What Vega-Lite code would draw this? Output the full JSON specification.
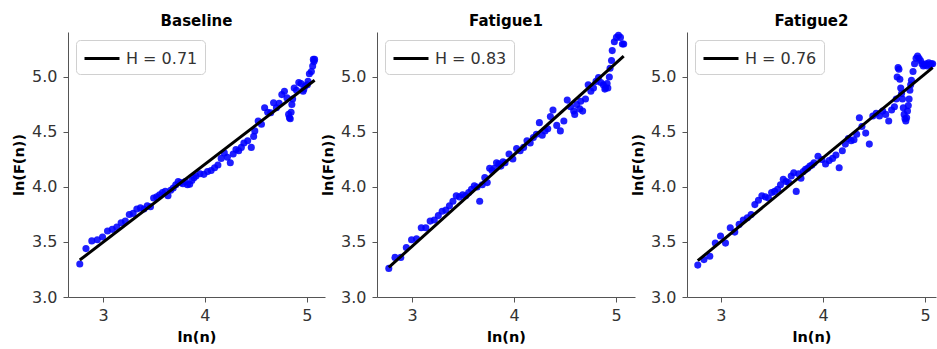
{
  "$schema": "https://vega.github.io/schema/vega-lite/v6.json",
  "padding": {"left": 11, "top": 13, "right": 0, "bottom": 0},
  "background": "white",
  "datasets": {
    "fit": [
      {"p": "Baseline", "label": "H = 0.71", "x": 2.7726, "y": 3.336},
      {"p": "Baseline", "label": "H = 0.71", "x": 5.0752, "y": 4.97},
      {"p": "Fatigue1", "label": "H = 0.83", "x": 2.7726, "y": 3.27},
      {"p": "Fatigue1", "label": "H = 0.83", "x": 5.0752, "y": 5.19},
      {"p": "Fatigue2", "label": "H = 0.76", "x": 2.7726, "y": 3.33},
      {"p": "Fatigue2", "label": "H = 0.76", "x": 5.0752, "y": 5.085}
    ],
    "pts": [
      {"p":"Baseline","x":2.7726,"y":3.30},{"p":"Baseline","x":2.8332,"y":3.44},{"p":"Baseline","x":2.8904,"y":3.51},{"p":"Baseline","x":2.9444,"y":3.52},{"p":"Baseline","x":2.9957,"y":3.545},{"p":"Baseline","x":3.0445,"y":3.60},{"p":"Baseline","x":3.0910,"y":3.615},{"p":"Baseline","x":3.1355,"y":3.635},{"p":"Baseline","x":3.1781,"y":3.675},{"p":"Baseline","x":3.2189,"y":3.69},{"p":"Baseline","x":3.2581,"y":3.75},{"p":"Baseline","x":3.2958,"y":3.76},{"p":"Baseline","x":3.3322,"y":3.80},{"p":"Baseline","x":3.3673,"y":3.81},{"p":"Baseline","x":3.4012,"y":3.80},{"p":"Baseline","x":3.4340,"y":3.83},{"p":"Baseline","x":3.4657,"y":3.82},{"p":"Baseline","x":3.4965,"y":3.90},{"p":"Baseline","x":3.5264,"y":3.91},{"p":"Baseline","x":3.5553,"y":3.93},{"p":"Baseline","x":3.5835,"y":3.95},{"p":"Baseline","x":3.6109,"y":3.96},{"p":"Baseline","x":3.6376,"y":3.92},{"p":"Baseline","x":3.6636,"y":3.97},{"p":"Baseline","x":3.6889,"y":3.99},{"p":"Baseline","x":3.7136,"y":4.02},{"p":"Baseline","x":3.7377,"y":4.05},{"p":"Baseline","x":3.7612,"y":4.04},{"p":"Baseline","x":3.7842,"y":4.03},{"p":"Baseline","x":3.8067,"y":4.05},{"p":"Baseline","x":3.8286,"y":4.02},{"p":"Baseline","x":3.8501,"y":4.025},{"p":"Baseline","x":3.8712,"y":4.06},{"p":"Baseline","x":3.8918,"y":4.085},{"p":"Baseline","x":3.9120,"y":4.10},{"p":"Baseline","x":3.9512,"y":4.12},{"p":"Baseline","x":3.9890,"y":4.115},{"p":"Baseline","x":4.0254,"y":4.14},{"p":"Baseline","x":4.0604,"y":4.15},{"p":"Baseline","x":4.0943,"y":4.175},{"p":"Baseline","x":4.1271,"y":4.20},{"p":"Baseline","x":4.1589,"y":4.26},{"p":"Baseline","x":4.1897,"y":4.31},{"p":"Baseline","x":4.2195,"y":4.27},{"p":"Baseline","x":4.2485,"y":4.22},{"p":"Baseline","x":4.2767,"y":4.30},{"p":"Baseline","x":4.3041,"y":4.34},{"p":"Baseline","x":4.3307,"y":4.33},{"p":"Baseline","x":4.3567,"y":4.36},{"p":"Baseline","x":4.3820,"y":4.40},{"p":"Baseline","x":4.4188,"y":4.42},{"p":"Baseline","x":4.4543,"y":4.36},{"p":"Baseline","x":4.4773,"y":4.46},{"p":"Baseline","x":4.4886,"y":4.51},{"p":"Baseline","x":4.5218,"y":4.60},{"p":"Baseline","x":4.5539,"y":4.57},{"p":"Baseline","x":4.5850,"y":4.72},{"p":"Baseline","x":4.6151,"y":4.68},{"p":"Baseline","x":4.6444,"y":4.675},{"p":"Baseline","x":4.6728,"y":4.765},{"p":"Baseline","x":4.7005,"y":4.72},{"p":"Baseline","x":4.7274,"y":4.76},{"p":"Baseline","x":4.7536,"y":4.84},{"p":"Baseline","x":4.7791,"y":4.87},{"p":"Baseline","x":4.8040,"y":4.81},{"p":"Baseline","x":4.8203,"y":4.66},{"p":"Baseline","x":4.8283,"y":4.63},{"p":"Baseline","x":4.8363,"y":4.62},{"p":"Baseline","x":4.8442,"y":4.68},{"p":"Baseline","x":4.8520,"y":4.75},{"p":"Baseline","x":4.8598,"y":4.80},{"p":"Baseline","x":4.8752,"y":4.90},{"p":"Baseline","x":4.8978,"y":4.88},{"p":"Baseline","x":4.9200,"y":4.95},{"p":"Baseline","x":4.9416,"y":4.94},{"p":"Baseline","x":4.9628,"y":4.87},{"p":"Baseline","x":4.9698,"y":4.89},{"p":"Baseline","x":4.9836,"y":4.92},{"p":"Baseline","x":5.0039,"y":4.93},{"p":"Baseline","x":5.0106,"y":4.96},{"p":"Baseline","x":5.0239,"y":5.03},{"p":"Baseline","x":5.0434,"y":5.05},{"p":"Baseline","x":5.0562,"y":5.10},{"p":"Baseline","x":5.0626,"y":5.16},{"p":"Baseline","x":5.0689,"y":5.14},{"p":"Baseline","x":5.0752,"y":5.16},

      {"p":"Fatigue1","x":2.7726,"y":3.26},{"p":"Fatigue1","x":2.8332,"y":3.36},{"p":"Fatigue1","x":2.8904,"y":3.36},{"p":"Fatigue1","x":2.9444,"y":3.45},{"p":"Fatigue1","x":2.9957,"y":3.52},{"p":"Fatigue1","x":3.0445,"y":3.53},{"p":"Fatigue1","x":3.0910,"y":3.63},{"p":"Fatigue1","x":3.1355,"y":3.63},{"p":"Fatigue1","x":3.1781,"y":3.69},{"p":"Fatigue1","x":3.2189,"y":3.70},{"p":"Fatigue1","x":3.2581,"y":3.74},{"p":"Fatigue1","x":3.2958,"y":3.78},{"p":"Fatigue1","x":3.3322,"y":3.79},{"p":"Fatigue1","x":3.3673,"y":3.83},{"p":"Fatigue1","x":3.4012,"y":3.87},{"p":"Fatigue1","x":3.4340,"y":3.92},{"p":"Fatigue1","x":3.4657,"y":3.91},{"p":"Fatigue1","x":3.4965,"y":3.93},{"p":"Fatigue1","x":3.5264,"y":3.92},{"p":"Fatigue1","x":3.5553,"y":3.95},{"p":"Fatigue1","x":3.5835,"y":3.98},{"p":"Fatigue1","x":3.6109,"y":4.01},{"p":"Fatigue1","x":3.6376,"y":4.00},{"p":"Fatigue1","x":3.6636,"y":3.87},{"p":"Fatigue1","x":3.6889,"y":4.02},{"p":"Fatigue1","x":3.7136,"y":4.085},{"p":"Fatigue1","x":3.7377,"y":4.04},{"p":"Fatigue1","x":3.7612,"y":4.17},{"p":"Fatigue1","x":3.7842,"y":4.15},{"p":"Fatigue1","x":3.8067,"y":4.17},{"p":"Fatigue1","x":3.8286,"y":4.22},{"p":"Fatigue1","x":3.8501,"y":4.21},{"p":"Fatigue1","x":3.8712,"y":4.19},{"p":"Fatigue1","x":3.8918,"y":4.23},{"p":"Fatigue1","x":3.9120,"y":4.22},{"p":"Fatigue1","x":3.9512,"y":4.30},{"p":"Fatigue1","x":3.9890,"y":4.255},{"p":"Fatigue1","x":4.0254,"y":4.35},{"p":"Fatigue1","x":4.0604,"y":4.33},{"p":"Fatigue1","x":4.0943,"y":4.36},{"p":"Fatigue1","x":4.1271,"y":4.42},{"p":"Fatigue1","x":4.1589,"y":4.40},{"p":"Fatigue1","x":4.1897,"y":4.45},{"p":"Fatigue1","x":4.2195,"y":4.48},{"p":"Fatigue1","x":4.2485,"y":4.585},{"p":"Fatigue1","x":4.2767,"y":4.47},{"p":"Fatigue1","x":4.3041,"y":4.51},{"p":"Fatigue1","x":4.3307,"y":4.53},{"p":"Fatigue1","x":4.3567,"y":4.64},{"p":"Fatigue1","x":4.3820,"y":4.70},{"p":"Fatigue1","x":4.4188,"y":4.56},{"p":"Fatigue1","x":4.4543,"y":4.51},{"p":"Fatigue1","x":4.4886,"y":4.60},{"p":"Fatigue1","x":4.5218,"y":4.79},{"p":"Fatigue1","x":4.5539,"y":4.73},{"p":"Fatigue1","x":4.5850,"y":4.69},{"p":"Fatigue1","x":4.5951,"y":4.66},{"p":"Fatigue1","x":4.6151,"y":4.75},{"p":"Fatigue1","x":4.6444,"y":4.71},{"p":"Fatigue1","x":4.6540,"y":4.78},{"p":"Fatigue1","x":4.6728,"y":4.69},{"p":"Fatigue1","x":4.7005,"y":4.80},{"p":"Fatigue1","x":4.7274,"y":4.93},{"p":"Fatigue1","x":4.7536,"y":4.87},{"p":"Fatigue1","x":4.7791,"y":4.90},{"p":"Fatigue1","x":4.8040,"y":4.96},{"p":"Fatigue1","x":4.8283,"y":4.995},{"p":"Fatigue1","x":4.8520,"y":4.95},{"p":"Fatigue1","x":4.8752,"y":4.93},{"p":"Fatigue1","x":4.8903,"y":4.89},{"p":"Fatigue1","x":4.8978,"y":4.90},{"p":"Fatigue1","x":4.9127,"y":4.94},{"p":"Fatigue1","x":4.9200,"y":4.90},{"p":"Fatigue1","x":4.9345,"y":5.00},{"p":"Fatigue1","x":4.9416,"y":5.08},{"p":"Fatigue1","x":4.9558,"y":5.15},{"p":"Fatigue1","x":4.9628,"y":5.24},{"p":"Fatigue1","x":4.9836,"y":5.32},{"p":"Fatigue1","x":5.0039,"y":5.36},{"p":"Fatigue1","x":5.0239,"y":5.38},{"p":"Fatigue1","x":5.0434,"y":5.36},{"p":"Fatigue1","x":5.0626,"y":5.30},{"p":"Fatigue1","x":5.0752,"y":5.30},

      {"p":"Fatigue2","x":2.7726,"y":3.29},{"p":"Fatigue2","x":2.8332,"y":3.34},{"p":"Fatigue2","x":2.8904,"y":3.37},{"p":"Fatigue2","x":2.9444,"y":3.49},{"p":"Fatigue2","x":2.9957,"y":3.555},{"p":"Fatigue2","x":3.0445,"y":3.49},{"p":"Fatigue2","x":3.0910,"y":3.63},{"p":"Fatigue2","x":3.1355,"y":3.59},{"p":"Fatigue2","x":3.1781,"y":3.66},{"p":"Fatigue2","x":3.2189,"y":3.70},{"p":"Fatigue2","x":3.2581,"y":3.72},{"p":"Fatigue2","x":3.2958,"y":3.75},{"p":"Fatigue2","x":3.3322,"y":3.84},{"p":"Fatigue2","x":3.3673,"y":3.88},{"p":"Fatigue2","x":3.4012,"y":3.92},{"p":"Fatigue2","x":3.4340,"y":3.91},{"p":"Fatigue2","x":3.4657,"y":3.90},{"p":"Fatigue2","x":3.4965,"y":3.95},{"p":"Fatigue2","x":3.5264,"y":3.96},{"p":"Fatigue2","x":3.5553,"y":3.98},{"p":"Fatigue2","x":3.5835,"y":4.02},{"p":"Fatigue2","x":3.6109,"y":4.07},{"p":"Fatigue2","x":3.6376,"y":4.05},{"p":"Fatigue2","x":3.6636,"y":4.04},{"p":"Fatigue2","x":3.6889,"y":4.10},{"p":"Fatigue2","x":3.7136,"y":4.13},{"p":"Fatigue2","x":3.7377,"y":3.96},{"p":"Fatigue2","x":3.7612,"y":4.12},{"p":"Fatigue2","x":3.7842,"y":4.08},{"p":"Fatigue2","x":3.8067,"y":4.14},{"p":"Fatigue2","x":3.8286,"y":4.16},{"p":"Fatigue2","x":3.8501,"y":4.17},{"p":"Fatigue2","x":3.8712,"y":4.19},{"p":"Fatigue2","x":3.8918,"y":4.20},{"p":"Fatigue2","x":3.9120,"y":4.22},{"p":"Fatigue2","x":3.9512,"y":4.28},{"p":"Fatigue2","x":3.9890,"y":4.25},{"p":"Fatigue2","x":4.0254,"y":4.21},{"p":"Fatigue2","x":4.0604,"y":4.24},{"p":"Fatigue2","x":4.0943,"y":4.26},{"p":"Fatigue2","x":4.1271,"y":4.29},{"p":"Fatigue2","x":4.1589,"y":4.175},{"p":"Fatigue2","x":4.1897,"y":4.33},{"p":"Fatigue2","x":4.2195,"y":4.39},{"p":"Fatigue2","x":4.2485,"y":4.44},{"p":"Fatigue2","x":4.2767,"y":4.42},{"p":"Fatigue2","x":4.3041,"y":4.43},{"p":"Fatigue2","x":4.3307,"y":4.48},{"p":"Fatigue2","x":4.3567,"y":4.63},{"p":"Fatigue2","x":4.3820,"y":4.55},{"p":"Fatigue2","x":4.4188,"y":4.49},{"p":"Fatigue2","x":4.4543,"y":4.39},{"p":"Fatigue2","x":4.4886,"y":4.645},{"p":"Fatigue2","x":4.5218,"y":4.67},{"p":"Fatigue2","x":4.5539,"y":4.645},{"p":"Fatigue2","x":4.5850,"y":4.69},{"p":"Fatigue2","x":4.6151,"y":4.66},{"p":"Fatigue2","x":4.6444,"y":4.60},{"p":"Fatigue2","x":4.6728,"y":4.70},{"p":"Fatigue2","x":4.7005,"y":4.73},{"p":"Fatigue2","x":4.7185,"y":4.80},{"p":"Fatigue2","x":4.7274,"y":5.00},{"p":"Fatigue2","x":4.7362,"y":5.085},{"p":"Fatigue2","x":4.7449,"y":5.07},{"p":"Fatigue2","x":4.7536,"y":4.98},{"p":"Fatigue2","x":4.7622,"y":4.90},{"p":"Fatigue2","x":4.7707,"y":4.85},{"p":"Fatigue2","x":4.7791,"y":4.80},{"p":"Fatigue2","x":4.7875,"y":4.72},{"p":"Fatigue2","x":4.7958,"y":4.66},{"p":"Fatigue2","x":4.8040,"y":4.62},{"p":"Fatigue2","x":4.8122,"y":4.60},{"p":"Fatigue2","x":4.8203,"y":4.63},{"p":"Fatigue2","x":4.8283,"y":4.69},{"p":"Fatigue2","x":4.8363,"y":4.74},{"p":"Fatigue2","x":4.8442,"y":4.80},{"p":"Fatigue2","x":4.8520,"y":4.88},{"p":"Fatigue2","x":4.8598,"y":4.93},{"p":"Fatigue2","x":4.8675,"y":4.97},{"p":"Fatigue2","x":4.8828,"y":5.05},{"p":"Fatigue2","x":4.8978,"y":5.12},{"p":"Fatigue2","x":4.9127,"y":5.17},{"p":"Fatigue2","x":4.9273,"y":5.19},{"p":"Fatigue2","x":4.9416,"y":5.17},{"p":"Fatigue2","x":4.9558,"y":5.15},{"p":"Fatigue2","x":4.9698,"y":5.12},{"p":"Fatigue2","x":4.9836,"y":5.10},{"p":"Fatigue2","x":4.9972,"y":5.11},{"p":"Fatigue2","x":5.0106,"y":5.12},{"p":"Fatigue2","x":5.0239,"y":5.10},{"p":"Fatigue2","x":5.0370,"y":5.13},{"p":"Fatigue2","x":5.0499,"y":5.11},{"p":"Fatigue2","x":5.0626,"y":5.12},{"p":"Fatigue2","x":5.0752,"y":5.12}
    ]
  },
  "config": {
    "font": "DejaVu Sans",
    "view": {"stroke": null},
    "axis": {"grid": false, "domainColor": "#555", "tickColor": "#555", "tickSize": 5, "labelFontSize": 16, "labelColor": "#333", "labelPadding": 6, "labelFlush": false, "titleFontSize": 14.5, "titleFontWeight": "bold", "titleColor": "black", "titlePadding": 5},
    "axisX": {"labelPadding": 5, "titlePadding": 7},
    "title": {"fontSize": 15, "fontWeight": "bold", "color": "black", "offset": 3},
    "legend": {"symbolType": "M-1,0H2.5", "symbolSize": 400, "symbolStrokeWidth": 3, "labelFontSize": 16, "labelColor": "#333", "padding": 7, "fillColor": "white", "strokeColor": "#d0d0d0", "cornerRadius": 4, "offset": 8, "labelOffset": 20}
  },
  "bounds": "flush",
  "spacing": 52,
  "resolve": {"scale": {"x": "independent", "y": "independent", "color": "independent"}, "legend": {"color": "independent"}},
  "hconcat": [
    {
      "title": "Baseline",
      "width": 257, "height": 265,
      "encoding": {
        "x": {"field": "x", "type": "quantitative", "scale": {"domain": [2.657, 5.177], "nice": false, "zero": false}, "axis": {"values": [3, 4, 5], "format": "d", "title": "ln(n)"}},
        "y": {"field": "y", "type": "quantitative", "scale": {"domain": [3, 5.409], "nice": false, "zero": false}, "axis": {"values": [3, 3.5, 4, 4.5, 5], "format": ".1f", "title": "ln(F(n))"}}
      },
      "layer": [
        {"data": {"name": "pts"}, "transform": [{"filter": "datum.p === 'Baseline'"}], "mark": {"type": "circle", "size": 50, "color": "#0000ff", "opacity": 0.88}},
        {"data": {"name": "fit"}, "transform": [{"filter": "datum.p === 'Baseline'"}], "mark": {"type": "line", "strokeWidth": 3}, "encoding": {"color": {"field": "label", "type": "nominal", "scale": {"range": ["black"]}, "legend": {"title": null, "orient": "top-left"}}}}
      ]
    },
    {
      "title": "Fatigue1",
      "width": 258, "height": 265,
      "encoding": {
        "x": {"field": "x", "type": "quantitative", "scale": {"domain": [2.657, 5.186], "nice": false, "zero": false}, "axis": {"values": [3, 4, 5], "format": "d", "title": "ln(n)"}},
        "y": {"field": "y", "type": "quantitative", "scale": {"domain": [3, 5.409], "nice": false, "zero": false}, "axis": {"values": [3, 3.5, 4, 4.5, 5], "format": ".1f", "title": "ln(F(n))"}}
      },
      "layer": [
        {"data": {"name": "pts"}, "transform": [{"filter": "datum.p === 'Fatigue1'"}], "mark": {"type": "circle", "size": 50, "color": "#0000ff", "opacity": 0.88}},
        {"data": {"name": "fit"}, "transform": [{"filter": "datum.p === 'Fatigue1'"}], "mark": {"type": "line", "strokeWidth": 3}, "encoding": {"color": {"field": "label", "type": "nominal", "scale": {"range": ["black"]}, "legend": {"title": null, "orient": "top-left"}}}}
      ]
    },
    {
      "title": "Fatigue2",
      "width": 249, "height": 265,
      "encoding": {
        "x": {"field": "x", "type": "quantitative", "scale": {"domain": [2.667, 5.108], "nice": false, "zero": false}, "axis": {"values": [3, 4, 5], "format": "d", "title": "ln(n)"}},
        "y": {"field": "y", "type": "quantitative", "scale": {"domain": [3, 5.409], "nice": false, "zero": false}, "axis": {"values": [3, 3.5, 4, 4.5, 5], "format": ".1f", "title": "ln(F(n))"}}
      },
      "layer": [
        {"data": {"name": "pts"}, "transform": [{"filter": "datum.p === 'Fatigue2'"}], "mark": {"type": "circle", "size": 50, "color": "#0000ff", "opacity": 0.88}},
        {"data": {"name": "fit"}, "transform": [{"filter": "datum.p === 'Fatigue2'"}], "mark": {"type": "line", "strokeWidth": 3}, "encoding": {"color": {"field": "label", "type": "nominal", "scale": {"range": ["black"]}, "legend": {"title": null, "orient": "top-left"}}}}
      ]
    }
  ]
}
